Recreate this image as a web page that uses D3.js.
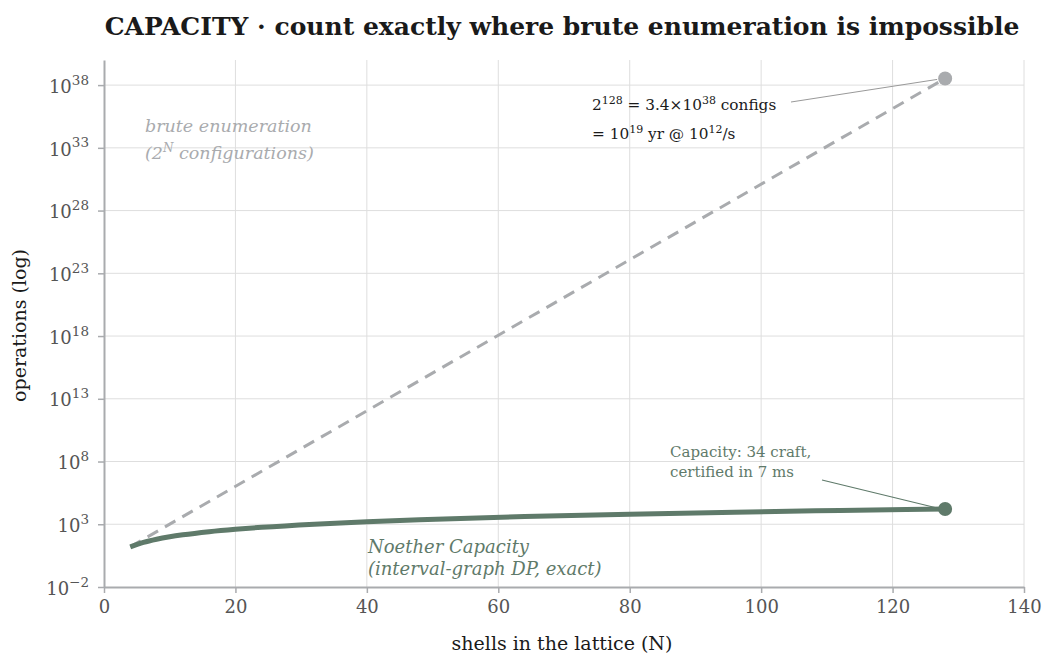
<!DOCTYPE html>
<html>
<head>
<meta charset="utf-8">
<script src="https://cdn.jsdelivr.net/npm/d3@7"></script>
<style>
  body { margin: 0; background: #fff; }
  svg { font-family: Georgia, "DejaVu Serif", serif; }
</style>
</head>
<body>
<div id="chart"></div>
<script>
// shells in the lattice (N) and operation counts
const bruteN = [4, 128];
const bruteOps = [16, 3.4e38];
const capN = [4, 6, 8, 10, 12, 16, 20, 24, 32, 40, 48, 64, 80, 96, 112, 128];
const capOps = [16, 36, 64, 100, 144, 256, 400, 576, 1024, 1600, 2304, 4096, 6400, 9216, 12544, 16384];
const xTicks = [0, 20, 40, 60, 80, 100, 120, 140];
const yExps = [-2, 3, 8, 13, 18, 23, 28, 33, 38];

const width = 1058, height = 670;
const margin = {top: 60, right: 34, bottom: 83, left: 104};
const chartW = width - margin.left - margin.right;
const chartH = height - margin.top - margin.bottom;

const grey = "#a9abae";
const green = "#5f7a6a";
const serif = 'Georgia, "DejaVu Serif", serif';

const svg = d3.select("#chart").append("svg")
  .attr("width", width)
  .attr("height", height);

svg.append("text")
  .attr("x", 562).attr("y", 35)
  .attr("text-anchor", "middle")
  .attr("font-size", 25).attr("font-weight", "bold")
  .attr("fill", "#1a1a1a")
  .text("CAPACITY · count exactly where brute enumeration is impossible");

const g = svg.append("g")
  .attr("transform", `translate(${margin.left}, ${margin.top})`);

const x = d3.scaleLinear().domain([0, 140]).range([0, chartW]);
const y = d3.scaleLog().domain([1e-2, 1e40]).range([chartH, 0]);

// grid
g.append("g").selectAll("line")
  .data(xTicks.slice(1))
  .join("line")
  .attr("x1", d => x(d)).attr("x2", d => x(d))
  .attr("y1", 0).attr("y2", chartH)
  .attr("stroke", "#dedede").attr("stroke-width", 1);
g.append("g").selectAll("line")
  .data(yExps.slice(1))
  .join("line")
  .attr("x1", 0).attr("x2", chartW)
  .attr("y1", d => y(Math.pow(10, d))).attr("y2", d => y(Math.pow(10, d)))
  .attr("stroke", "#dedede").attr("stroke-width", 1);

// axes
const xAxis = g.append("g")
  .attr("transform", `translate(0, ${chartH})`)
  .call(d3.axisBottom(x).tickValues(xTicks).tickSize(6).tickPadding(7).tickSizeOuter(0));
const yAxis = g.append("g")
  .call(d3.axisLeft(y).tickValues(yExps.map(e => Math.pow(10, e))).tickSize(6).tickPadding(9).tickFormat(() => "").tickSizeOuter(0));

[xAxis, yAxis].forEach(a => {
  a.attr("font-family", serif).attr("font-size", 18);
  a.select(".domain").attr("stroke", grey).attr("stroke-width", 2);
  a.selectAll(".tick line").attr("stroke", grey).attr("stroke-width", 1.5);
  a.selectAll(".tick text").attr("fill", "#555");
});

yAxis.selectAll(".tick text").each(function(d, i) {
  const t = d3.select(this).attr("dy", "0.4em");
  t.append("tspan").text("10");
  t.append("tspan").attr("dy", "-0.6em").attr("font-size", 13.5).text(yExps[i] < 0 ? "\u2212" + (-yExps[i]) : yExps[i]);
});

// axis titles
g.append("text")
  .attr("x", chartW / 2 - 2).attr("y", chartH + 63)
  .attr("text-anchor", "middle").attr("font-size", 19).attr("fill", "#1a1a1a")
  .text("shells in the lattice (N)");
g.append("text")
  .attr("transform", "rotate(-90)")
  .attr("x", -(chartH / 2) - 2).attr("y", -78)
  .attr("text-anchor", "middle").attr("font-size", 19).attr("fill", "#1a1a1a")
  .text("operations (log)");

// lines
const line = d3.line().x(d => x(d[0])).y(d => y(d[1])).curve(d3.curveMonotoneX);

g.append("path")
  .datum(bruteN.map((n, i) => [n, bruteOps[i]]))
  .attr("d", line)
  .attr("fill", "none").attr("stroke", grey)
  .attr("stroke-width", 3).attr("stroke-dasharray", "12,8");

g.append("path")
  .datum(capN.map((n, i) => [n, capOps[i]]))
  .attr("d", line)
  .attr("fill", "none").attr("stroke", green)
  .attr("stroke-width", 5);

// end points
const bx = x(bruteN[1]), by = y(bruteOps[1]);
const cx = x(capN[capN.length - 1]), cy = y(capOps[capOps.length - 1]);

g.append("line")
  .attr("x1", bx - 8).attr("y1", by + 1).attr("x2", 791 - margin.left).attr("y2", 102 - margin.top)
  .attr("stroke", "#999").attr("stroke-width", 1);
g.append("line")
  .attr("x1", cx - 8).attr("y1", cy - 1).attr("x2", 822 - margin.left).attr("y2", 480 - margin.top)
  .attr("stroke", green).attr("stroke-width", 1.2);

g.append("circle").attr("cx", bx).attr("cy", by).attr("r", 7).attr("fill", grey);
g.append("circle").attr("cx", cx).attr("cy", cy).attr("r", 7).attr("fill", green);

// annotations
const ann = svg.append("g").attr("font-size", 15.3).attr("fill", "#1a1a1a");
const a1 = ann.append("text").attr("x", 592).attr("y", 110);
a1.append("tspan").text("2");
a1.append("tspan").attr("dy", -6).attr("font-size", 11).text("128");
a1.append("tspan").attr("dy", 6).text(" = 3.4\u00d710");
a1.append("tspan").attr("dy", -6).attr("font-size", 11).text("38");
a1.append("tspan").attr("dy", 6).text(" configs");
const a2 = ann.append("text").attr("x", 592).attr("y", 139);
a2.append("tspan").text("= 10");
a2.append("tspan").attr("dy", -6).attr("font-size", 11).text("19");
a2.append("tspan").attr("dy", 6).text(" yr @ 10");
a2.append("tspan").attr("dy", -6).attr("font-size", 11).text("12");
a2.append("tspan").attr("dy", 6).text("/s");

const cap = svg.append("g").attr("font-size", 15).attr("fill", green);
cap.append("text").attr("x", 670).attr("y", 457).text("Capacity: 34 craft,");
cap.append("text").attr("x", 670).attr("y", 477).text("certified in 7 ms");

const bl = svg.append("g").attr("font-size", 17.5).attr("font-style", "italic").attr("fill", grey);
bl.append("text").attr("x", 145).attr("y", 132).text("brute enumeration");
const bl2 = bl.append("text").attr("x", 145).attr("y", 159);
bl2.append("tspan").text("(2");
bl2.append("tspan").attr("dy", -7).attr("font-size", 12).text("N");
bl2.append("tspan").attr("dy", 7).text(" configurations)");

const nl = svg.append("g").attr("font-size", 18).attr("font-style", "italic").attr("fill", green);
nl.append("text").attr("x", 368).attr("y", 553).text("Noether Capacity");
nl.append("text").attr("x", 368).attr("y", 575).text("(interval-graph DP, exact)");
</script>
</body>
</html>
